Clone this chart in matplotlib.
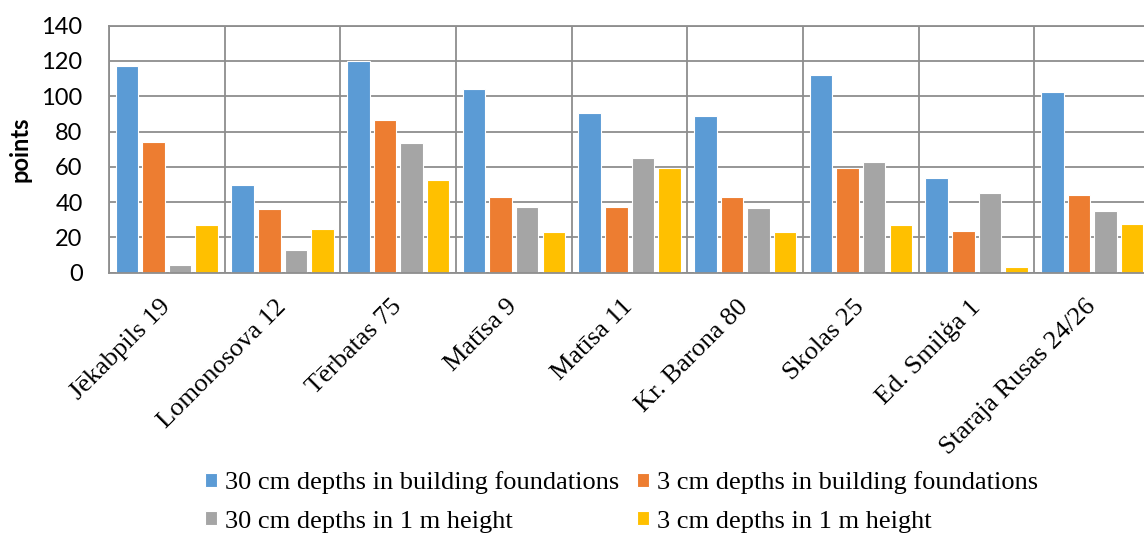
import numpy as np
import matplotlib
matplotlib.use('Agg')
import matplotlib.pyplot as plt

sites = ['Jēkabpils 19', 'Lomonosova 12', 'Tērbatas 75', 'Matīsa 9', 'Matīsa 11',
         'Kr. Barona 80', 'Skolas 25', 'Ed. Smilģa 1', 'Staraja Rusas 24/26']

found_30cm = [117, 49.6, 120, 104, 90.7, 89, 112, 53.6, 102.6]
found_3cm = [74, 36.2, 86.5, 43, 37.3, 42.8, 59.6, 23.7, 44.1]
wall_30cm = [4.4, 12.7, 73.5, 37.1, 65.1, 36.7, 62.5, 45.4, 34.9]
wall_3cm = [27.1, 24.8, 52.5, 23.1, 59.6, 23.1, 26.9, 3.1, 27.7]

series_names = ['30 cm depths in building foundations',
                '3 cm depths in building foundations',
                '30 cm depths in 1 m height',
                '3 cm depths in 1 m height']
colors = ['#5B9BD5', '#ED7D31', '#A5A5A5', '#FFC000']
grid_col = '#8E8E8E'

fig = plt.figure(figsize=(11.44, 5.34), dpi=100)
ax = fig.add_axes([0.0953, 0.4893, 0.9100, 0.4626])

x = np.arange(len(sites))
pitch = 0.23
bars = []
for i, (vals, name, col) in enumerate(zip([found_30cm, found_3cm, wall_30cm, wall_3cm],
                                          series_names, colors)):
    b = ax.bar(x + (i - 1.5) * pitch, vals, width=0.195, color=col,
               edgecolor='white', linewidth=0.8, label=name, zorder=2)
    bars.append(b)

ax.set_xlim(-0.5, len(sites) - 0.5)
ax.set_ylim(0, 140)
ax.set_yticks(np.arange(0, 141, 20))

ax.set_xticks(x)
ax.set_xticklabels(sites, rotation=45, ha='right', va='center',
                   rotation_mode='anchor', fontfamily='Liberation Serif', fontsize=19)
ax.set_xticks(np.arange(-0.5, len(sites)), minor=True)
ax.tick_params(axis='x', which='both', length=0, pad=22)
ax.tick_params(axis='y', length=0, pad=19, labelsize=17)
for lab in ax.get_yticklabels():
    lab.set_fontfamily('Lato')

ax.grid(axis='y', which='major', color=grid_col, linewidth=1.3)
ax.grid(axis='x', which='minor', color=grid_col, linewidth=1.3)
ax.set_axisbelow(True)
for sp in ax.spines.values():
    sp.set_color(grid_col)
    sp.set_linewidth(1.3)

ax.set_ylabel('points', fontfamily='Lato', fontweight='bold', fontsize=17)
ax.yaxis.set_label_coords(-0.074, 0.5)

# legend: two columns, filled column by column, so reorder to get rows of two
order = [0, 2, 1, 3]
fig.legend([bars[k] for k in order], [series_names[k] for k in order],
           ncol=2, loc='upper left', bbox_to_anchor=(0.179, 0.1176),
           frameon=False, borderpad=0, borderaxespad=0,
           handlelength=0.45, handleheight=0.45,
           handletextpad=0.3, columnspacing=0.7, labelspacing=0.62,
           prop={'family': 'Liberation Serif', 'size': 19})

fig.savefig('out.png', dpi=100)
